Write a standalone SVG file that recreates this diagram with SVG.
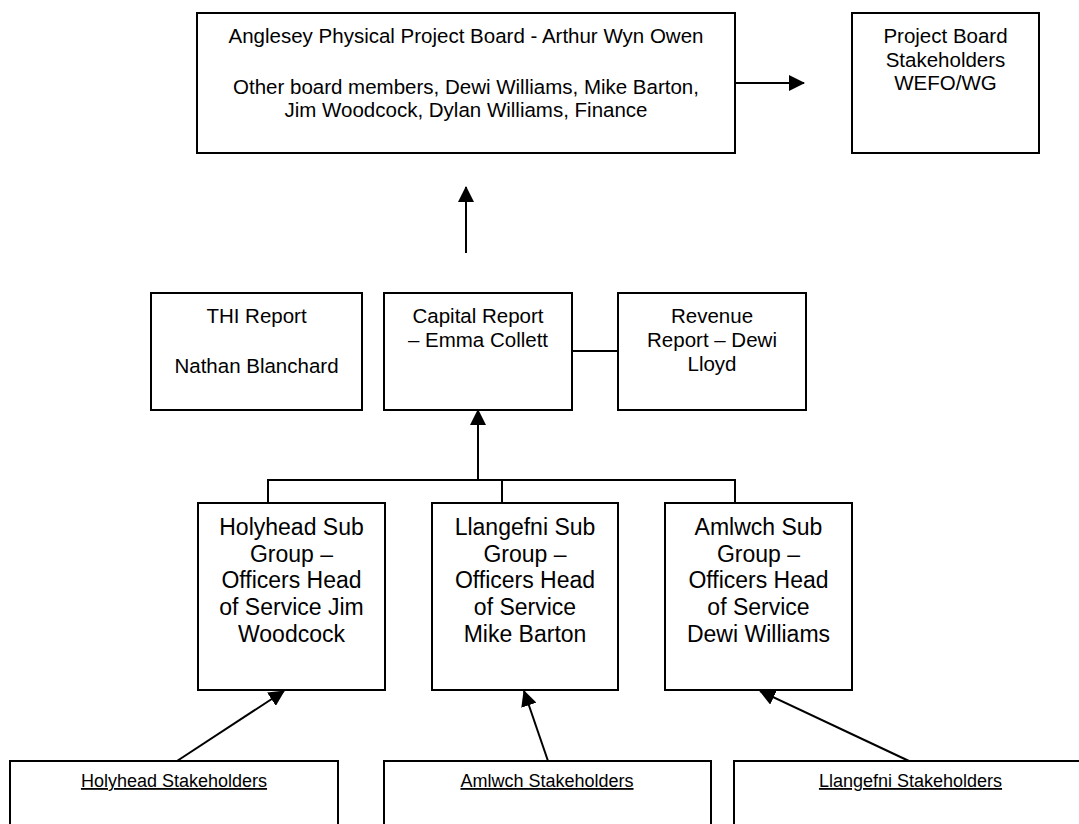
<svg xmlns="http://www.w3.org/2000/svg" width="1079" height="824" viewBox="0 0 1079 824">
<style>
  .box{fill:#fff;stroke:#000;stroke-width:2}
  .t{font-family:"Liberation Sans",Arial,sans-serif;font-size:20.5px;fill:#000;text-anchor:middle}
  .s{font-family:"Liberation Sans",Arial,sans-serif;font-size:23px;fill:#000;text-anchor:middle}
  .u{font-family:"Liberation Sans",Arial,sans-serif;font-size:18px;fill:#000;text-anchor:middle;text-decoration:underline}
  .c{fill:none;stroke:#000;stroke-width:2}
  .a{fill:none;stroke:#000;stroke-width:2;marker-end:url(#ah)}
</style>
<defs>
  <marker id="ah" markerUnits="userSpaceOnUse" markerWidth="16" markerHeight="16" viewBox="0 0 16 16" refX="15" refY="8" orient="auto">
    <path d="M0,0 L16,8 L0,16 z" fill="#000"/>
  </marker>
</defs>
<rect width="1079" height="824" fill="#fff"/>

<g id="connectors">
  <line class="a" x1="735" y1="83" x2="804" y2="83"/>
  <line class="a" x1="466" y1="253" x2="466" y2="187"/>
  <line class="c" x1="572" y1="351" x2="618" y2="351"/>
  <polyline class="c" points="268,503 268,480 735,480 735,503"/>
  <line class="c" x1="502" y1="480" x2="502" y2="503"/>
  <line class="a" x1="478" y1="480" x2="478" y2="410"/>
  <line class="a" x1="177" y1="761" x2="284" y2="691"/>
  <line class="a" x1="548" y1="761" x2="524" y2="691"/>
  <line class="a" x1="909" y1="761" x2="760" y2="691"/>
</g>

<g id="board">
  <rect class="box" x="197" y="13" width="538" height="140"/>
  <text class="t" x="466" y="43">Anglesey Physical Project Board - Arthur Wyn Owen</text>
  <text class="t" x="466" y="94">Other board members, Dewi Williams, Mike Barton,</text>
  <text class="t" x="466" y="117">Jim Woodcock, Dylan Williams, Finance</text>
</g>

<g id="board-stakeholders">
  <rect class="box" x="852" y="13" width="187" height="140"/>
  <text class="t" x="945.5" y="43">Project Board</text>
  <text class="t" x="945.5" y="66.5">Stakeholders</text>
  <text class="t" x="945.5" y="90">WEFO/WG</text>
</g>

<g id="thi-report">
  <rect class="box" x="151" y="293" width="211" height="117"/>
  <text class="t" x="256.5" y="323">THI Report</text>
  <text class="t" x="256.5" y="373">Nathan Blanchard</text>
</g>

<g id="capital-report">
  <rect class="box" x="384" y="293" width="188" height="117"/>
  <text class="t" x="478" y="323">Capital Report</text>
  <text class="t" x="478" y="347">– Emma Collett</text>
</g>

<g id="revenue-report">
  <rect class="box" x="618" y="293" width="188" height="117"/>
  <text class="t" x="712" y="323">Revenue</text>
  <text class="t" x="712" y="347">Report – Dewi</text>
  <text class="t" x="712" y="371">Lloyd</text>
</g>

<g id="holyhead-sub">
  <rect class="box" x="198" y="503" width="187" height="187"/>
  <text class="s" x="291.5" y="535">Holyhead Sub</text>
  <text class="s" x="291.5" y="562">Group –</text>
  <text class="s" x="291.5" y="588">Officers Head</text>
  <text class="s" x="291.5" y="615">of Service Jim</text>
  <text class="s" x="291.5" y="642">Woodcock</text>
</g>

<g id="llangefni-sub">
  <rect class="box" x="432" y="503" width="186" height="187"/>
  <text class="s" x="525" y="535">Llangefni Sub</text>
  <text class="s" x="525" y="562">Group –</text>
  <text class="s" x="525" y="588">Officers Head</text>
  <text class="s" x="525" y="615">of Service</text>
  <text class="s" x="525" y="642">Mike Barton</text>
</g>

<g id="amlwch-sub">
  <rect class="box" x="665" y="503" width="187" height="187"/>
  <text class="s" x="758.5" y="535">Amlwch Sub</text>
  <text class="s" x="758.5" y="562">Group –</text>
  <text class="s" x="758.5" y="588">Officers Head</text>
  <text class="s" x="758.5" y="615">of Service</text>
  <text class="s" x="758.5" y="642">Dewi Williams</text>
</g>

<g id="holyhead-stakeholders">
  <rect class="box" x="10" y="761" width="328" height="100"/>
  <text class="u" x="174" y="787">Holyhead Stakeholders</text>
</g>

<g id="amlwch-stakeholders">
  <rect class="box" x="384" y="761" width="327" height="100"/>
  <text class="u" x="547" y="787">Amlwch Stakeholders</text>
</g>

<g id="llangefni-stakeholders">
  <rect class="box" x="734" y="761" width="353" height="100"/>
  <text class="u" x="910.5" y="787">Llangefni Stakeholders</text>
</g>
</svg>
